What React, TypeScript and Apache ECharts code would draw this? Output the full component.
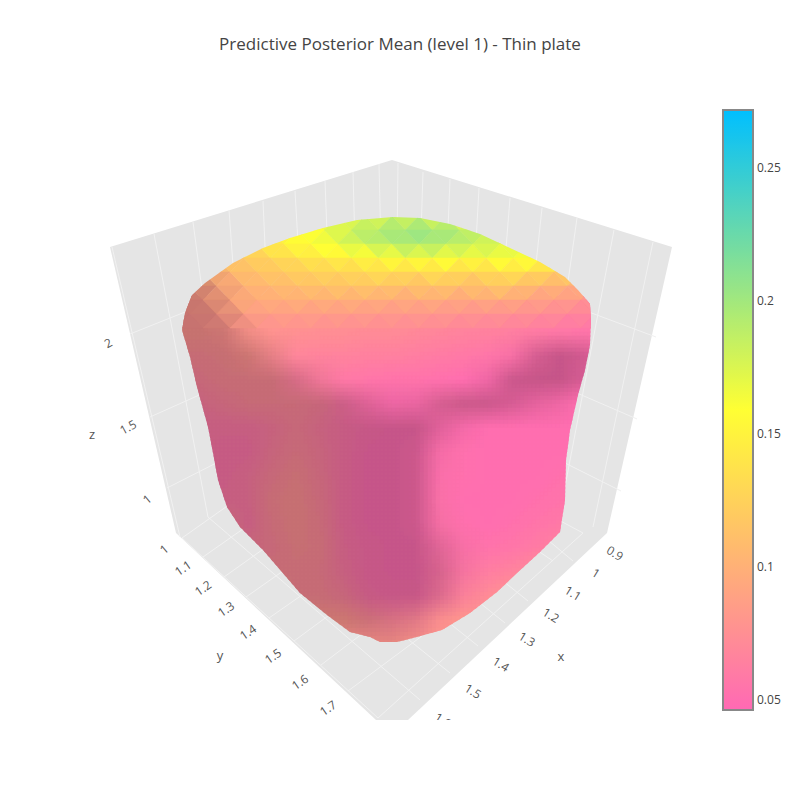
import React, { useEffect, useRef } from "react";
import * as echarts from "echarts";

const FONT = '"Open Sans", sans-serif';
const titleText = "Predictive Posterior Mean (level 1) - Thin plate";
const colorStops = ["#ff69b4", "#ffff33", "#00bfff"];
const valueMin = 0.0462;
const valueMax = 0.2714;
const colorbarTicks = [0.05, 0.1, 0.15, 0.2, 0.25];

// scene projected on the picture plane
const wallOutline = [[392, 160], [672, 247], [607, 533], [408, 720], [376, 720], [176, 533], [110, 247]];
const wallGridLines = [
  // y lines on the left wall
  [112, 247, 180, 537], [154, 234, 208, 517], [193, 222, 230, 500], [229, 210, 250, 500], [263, 201, 275, 470],
  [295, 191, 310, 450], [325, 181, 335, 440], [353, 172, 360, 430], [379, 164, 385, 420],
  // x lines on the right wall
  [398, 163, 395, 420], [423, 172, 415, 420], [450, 179, 440, 430], [479, 188, 465, 440], [510, 198, 490, 450],
  [542, 208, 515, 460], [577, 218, 540, 480], [614, 230, 563, 497], [653, 242, 593, 527],
  // z lines
  [130, 334, 200, 306], [150, 417, 215, 388], [167, 488, 230, 456],
  [570, 305, 656, 337], [570, 390, 637, 419], [555, 458, 621, 491],
  // floor, constant x
  [182, 538, 378, 718], [208, 517, 420, 700], [235, 500, 450, 673], [368, 558, 478, 646], [395, 535, 505, 623],
  [418, 513, 528, 601], [470, 505, 553, 561], [500, 500, 573, 561], [540, 510, 583, 533],
  // floor, constant y
  [182, 538, 240, 497], [203, 557, 280, 503], [224, 577, 300, 523], [246, 597, 320, 545], [269, 618, 345, 565],
  [294, 641, 370, 585], [321, 665, 400, 605], [348, 691, 430, 630], [378, 718, 583, 533],
];
const tickTexts = ["2", "1.5", "1", "1", "1.1", "1.2", "1.3", "1.4", "1.5", "1.6", "1.7", "0.9", "1", "1.1", "1.2", "1.3", "1.4", "1.5", "1.6"];
const tickX = [108, 128, 147, 164, 183, 203, 226, 248, 273, 300, 328, 615, 596, 573, 551, 527, 501, 473, 443];
const tickY = [343, 427, 499, 549, 568, 588, 609, 632, 656, 682, 708, 553, 573, 593, 615, 639, 664, 691, 720];
const tickTilt = [0.5, 0.5, 0.7, 0.7, 0.6, 0.6, 0.6, 0.6, 0.6, 0.6, 0.6, -0.55, -0.55, -0.55, -0.55, -0.55, -0.55, -0.55, -0.55];
const axisNames = ["z", "y", "x"];
const axisNameX = [92, 220, 561];
const axisNameY = [434, 655, 656];

const blobOutline = [
  [393, 217], [420, 218], [450, 224], [480, 234], [510, 248], [540, 262], [565, 277], [578, 290], [590, 304], [591, 320],
  [590, 345], [585, 370], [578, 395], [570, 430], [566, 460], [565, 500], [560, 532], [540, 552], [517, 573], [497, 592],
  [470, 613], [442, 630], [413, 638], [397, 642], [380, 642], [370, 637], [350, 632], [327, 615], [300, 593], [263, 550],
  [240, 527], [227, 507], [218, 480], [213, 453], [208, 427], [197, 387], [190, 357], [182, 330], [185, 313], [192, 295],
  [205, 283], [233, 263], [263, 248], [290, 238], [323, 228], [357, 220],
];

// lattice of the smooth part of the surface
const latticeX = [176, 200, 224, 248, 272, 296, 320, 344, 368, 392, 416, 440, 464, 488, 512, 536, 560, 584, 608];
const lightY = [212, 236, 260, 284, 308, 332, 356, 380, 404, 428, 452, 476, 500, 524, 548, 572, 596, 620, 644];
const light = [
  [100, 100, 100, 100, 100, 100, 100, 100, 100, 100, 100, 100, 100, 100, 100, 100, 100, 100, 100],
  [100, 100, 100, 100, 100, 100, 100, 100, 100, 100, 100, 100, 100, 100, 100, 100, 100, 100, 100],
  [100, 100, 100, 100, 100, 100, 100, 100, 100, 100, 100, 100, 100, 100, 100, 100, 100, 100, 100],
  [80, 82, 96, 100, 100, 100, 100, 100, 100, 100, 100, 100, 100, 100, 100, 100, 100, 100, 100],
  [78, 78, 88, 100, 100, 100, 100, 100, 100, 100, 100, 100, 100, 100, 100, 100, 100, 100, 100],
  [78, 78, 80, 94, 100, 100, 100, 100, 100, 100, 100, 100, 100, 100, 100, 100, 100, 100, 100],
  [78, 78, 78, 80, 90, 100, 100, 100, 100, 100, 100, 100, 100, 100, 97, 84, 78, 82, 90],
  [78, 78, 78, 78, 78, 84, 94, 100, 100, 100, 100, 100, 100, 94, 80, 78, 78, 84, 90],
  [78, 78, 78, 78, 78, 78, 78, 80, 87, 93, 92, 84, 80, 80, 84, 90, 94, 100, 100],
  [78, 78, 78, 78, 78, 78, 78, 78, 78, 78, 78, 88, 96, 100, 100, 100, 100, 100, 100],
  [78, 78, 78, 78, 78, 78, 78, 78, 78, 78, 80, 96, 100, 100, 100, 100, 100, 100, 100],
  [78, 78, 78, 78, 78, 78, 78, 78, 78, 78, 80, 98, 100, 100, 100, 100, 100, 100, 100],
  [78, 78, 78, 78, 78, 78, 78, 78, 78, 78, 80, 98, 100, 100, 100, 100, 100, 100, 100],
  [78, 78, 78, 78, 78, 78, 78, 78, 78, 78, 80, 96, 100, 100, 100, 100, 100, 100, 100],
  [78, 78, 78, 78, 78, 78, 78, 78, 78, 78, 78, 88, 97, 100, 100, 100, 100, 100, 100],
  [78, 78, 78, 78, 78, 78, 78, 78, 78, 78, 78, 84, 96, 100, 100, 100, 100, 100, 100],
  [78, 78, 78, 78, 78, 78, 78, 78, 78, 78, 78, 86, 98, 100, 100, 100, 100, 100, 100],
  [80, 80, 80, 80, 80, 80, 80, 80, 80, 84, 88, 98, 100, 100, 100, 100, 100, 100, 100],
  [90, 90, 90, 90, 90, 90, 90, 90, 90, 90, 95, 100, 100, 100, 100, 100, 100, 100, 100],
];
const meanY = [332, 356, 380, 404, 428, 452, 476, 500, 524, 548, 572, 596, 620, 644];
const mean = [
  [0.08, 0.078, 0.078, 0.08, 0.078, 0.076, 0.075, 0.074, 0.072, 0.072, 0.07, 0.068, 0.066, 0.065, 0.063, 0.06, 0.058, 0.056, 0.056],
  [0.072, 0.072, 0.074, 0.078, 0.074, 0.068, 0.066, 0.066, 0.064, 0.064, 0.062, 0.06, 0.058, 0.056, 0.054, 0.052, 0.05, 0.05, 0.05],
  [0.065, 0.068, 0.072, 0.072, 0.072, 0.064, 0.062, 0.058, 0.056, 0.054, 0.054, 0.052, 0.05, 0.05, 0.05, 0.05, 0.05, 0.05, 0.05],
  [0.06, 0.062, 0.066, 0.07, 0.07, 0.07, 0.066, 0.056, 0.052, 0.05, 0.05, 0.052, 0.052, 0.05, 0.05, 0.05, 0.05, 0.05, 0.05],
  [0.06, 0.058, 0.058, 0.058, 0.062, 0.068, 0.062, 0.056, 0.052, 0.05, 0.05, 0.05, 0.05, 0.05, 0.05, 0.05, 0.05, 0.05, 0.05],
  [0.06, 0.058, 0.056, 0.056, 0.064, 0.07, 0.064, 0.056, 0.05, 0.05, 0.05, 0.052, 0.052, 0.05, 0.05, 0.05, 0.05, 0.05, 0.05],
  [0.065, 0.06, 0.056, 0.06, 0.068, 0.074, 0.066, 0.056, 0.05, 0.05, 0.05, 0.052, 0.052, 0.05, 0.05, 0.05, 0.052, 0.055, 0.055],
  [0.07, 0.065, 0.058, 0.06, 0.072, 0.076, 0.068, 0.056, 0.05, 0.05, 0.05, 0.054, 0.05, 0.05, 0.05, 0.052, 0.054, 0.058, 0.058],
  [0.09, 0.085, 0.07, 0.058, 0.07, 0.076, 0.07, 0.056, 0.05, 0.05, 0.05, 0.054, 0.052, 0.05, 0.052, 0.055, 0.058, 0.062, 0.062],
  [0.09, 0.09, 0.085, 0.066, 0.068, 0.074, 0.072, 0.058, 0.052, 0.05, 0.05, 0.054, 0.054, 0.054, 0.056, 0.06, 0.065, 0.068, 0.068],
  [0.09, 0.09, 0.09, 0.085, 0.072, 0.072, 0.07, 0.06, 0.052, 0.05, 0.05, 0.056, 0.058, 0.062, 0.066, 0.072, 0.072, 0.07, 0.07],
  [0.09, 0.09, 0.09, 0.09, 0.085, 0.072, 0.072, 0.066, 0.055, 0.052, 0.052, 0.06, 0.066, 0.072, 0.078, 0.08, 0.08, 0.08, 0.08],
  [0.09, 0.09, 0.09, 0.09, 0.09, 0.085, 0.08, 0.08, 0.072, 0.068, 0.07, 0.076, 0.08, 0.08, 0.08, 0.08, 0.08, 0.08, 0.08],
  [0.08, 0.08, 0.08, 0.08, 0.08, 0.08, 0.08, 0.08, 0.08, 0.08, 0.08, 0.08, 0.08, 0.08, 0.08, 0.08, 0.08, 0.08, 0.08],
];

// faceted cap at the top of the surface (odd rows are staggered)
const capX = [176, 203, 230, 257, 284, 311, 338, 365, 392, 419, 446, 473, 500, 527, 554, 581, 608];
const capStagger = 13.5;
const capY = [216, 230, 244, 258, 272, 286, 300, 314, 328];
const capMean = [
  [0.12, 0.12, 0.13, 0.14, 0.15, 0.16, 0.17, 0.17, 0.175, 0.175, 0.17, 0.165, 0.16, 0.16, 0.15, 0.14, 0.13],
  [0.12, 0.125, 0.13, 0.14, 0.155, 0.165, 0.185, 0.195, 0.205, 0.205, 0.195, 0.18, 0.17, 0.16, 0.15, 0.14, 0.13],
  [0.11, 0.12, 0.125, 0.135, 0.155, 0.16, 0.17, 0.185, 0.19, 0.195, 0.19, 0.185, 0.175, 0.165, 0.15, 0.14, 0.13],
  [0.11, 0.115, 0.12, 0.125, 0.135, 0.145, 0.15, 0.155, 0.165, 0.165, 0.16, 0.165, 0.165, 0.16, 0.145, 0.13, 0.12],
  [0.1, 0.1, 0.105, 0.115, 0.12, 0.125, 0.125, 0.13, 0.135, 0.125, 0.14, 0.12, 0.135, 0.135, 0.125, 0.115, 0.11],
  [0.085, 0.09, 0.1, 0.105, 0.11, 0.115, 0.115, 0.118, 0.11, 0.118, 0.108, 0.118, 0.115, 0.1, 0.105, 0.09, 0.085],
  [0.08, 0.085, 0.095, 0.095, 0.1, 0.098, 0.1, 0.098, 0.095, 0.096, 0.095, 0.092, 0.095, 0.09, 0.085, 0.08, 0.075],
  [0.078, 0.08, 0.09, 0.085, 0.087, 0.085, 0.085, 0.083, 0.082, 0.082, 0.078, 0.078, 0.076, 0.074, 0.07, 0.066, 0.064],
  [0.078, 0.08, 0.08, 0.078, 0.078, 0.076, 0.075, 0.074, 0.072, 0.072, 0.07, 0.068, 0.066, 0.064, 0.06, 0.057, 0.056],
];

const clampIndex = (axis: number[], v: number) => {
  let i = 0;
  while (i < axis.length - 2 && v >= axis[i + 1]) i++;
  const t = Math.max(0, Math.min(1, (v - axis[i]) / (axis[i + 1] - axis[i])));
  return [i, t];
};
const sample = (rows: number[][], ys: number[], x: number, y: number) => {
  const [i, tx] = clampIndex(latticeX, x);
  const [j, ty] = clampIndex(ys, y);
  const a = rows[j][i] * (1 - tx) + rows[j][i + 1] * tx;
  const b = rows[j + 1][i] * (1 - tx) + rows[j + 1][i + 1] * tx;
  return a * (1 - ty) + b * ty;
};
const inside = (x: number, y: number) => {
  let hit = false;
  for (let i = 0, j = blobOutline.length - 1; i < blobOutline.length; j = i++) {
    const [xi, yi] = blobOutline[i];
    const [xj, yj] = blobOutline[j];
    if (yi > y !== yj > y && x < ((xj - xi) * (y - yi)) / (yj - yi) + xi) hit = !hit;
  }
  return hit;
};
const stopRgb = colorStops.map((c) => echarts.color.parse(c));
const shaded = (v: number, l: number) => {
  const t = Math.max(0, Math.min(1, (v - valueMin) / (valueMax - valueMin))) * 2;
  const k = Math.min(1, Math.floor(t));
  const f = t - k;
  const ch = (n: number) => Math.round((stopRgb[k][n] * (1 - f) + stopRgb[k + 1][n] * f) * (l / 100));
  return `rgb(${ch(0)},${ch(1)},${ch(2)})`;
};
const dim = (color: string, l: number) => {
  const c = echarts.color.parse(color);
  return `rgb(${Math.round((c[0] * l) / 100)},${Math.round((c[1] * l) / 100)},${Math.round((c[2] * l) / 100)})`;
};

const capTriangles: number[][] = [];
capY.slice(0, -1).forEach((y0, r) => {
  const y1 = capY[r + 1];
  const offTop = r % 2 ? capStagger : 0;
  const offBot = r % 2 ? 0 : capStagger;
  for (let k = 0; k < capX.length - 1; k++) {
    const t0 = capMean[r][k], t1 = capMean[r][k + 1], b0 = capMean[r + 1][k], b1 = capMean[r + 1][k + 1];
    if (r % 2 === 0) {
      capTriangles.push([capX[k] + offTop, y0, capX[k + 1] + offTop, y0, capX[k] + offBot, y1, (t0 + t1 + b0) / 3]);
      capTriangles.push([capX[k + 1] + offTop, y0, capX[k] + offBot, y1, capX[k + 1] + offBot, y1, (t1 + b0 + b1) / 3]);
    } else {
      capTriangles.push([capX[k] + offTop, y0, capX[k + 1] + offBot, y1, capX[k] + offBot, y1, (t0 + b0 + b1) / 3]);
      capTriangles.push([capX[k] + offTop, y0, capX[k + 1] + offTop, y0, capX[k + 1] + offBot, y1, (t0 + t1 + b1) / 3]);
    }
  }
});

export default function App() {
  const ref = useRef<HTMLDivElement>(null);
  useEffect(() => {
    const chart = echarts.init(ref.current!, undefined, { renderer: "svg" });
    const pts = (api: any, list: number[][]) => list.map((p) => api.coord(p));
    const SUB = 6;
    chart.setOption({
      animation: false,
      title: {
        text: titleText,
        left: "center",
        top: 30,
        textStyle: { fontFamily: FONT, fontSize: 17, fontWeight: "normal", color: "#444" },
      },
      grid: [
        { left: 0, top: 0, width: 800, height: 800, show: false },
        { left: 723, top: 110, width: 30, height: 600, show: false },
      ],
      xAxis: [
        { type: "value", min: 0, max: 800, show: false, gridIndex: 0 },
        { type: "value", min: 0, max: 1, show: false, gridIndex: 1 },
      ],
      yAxis: [
        { type: "value", min: 0, max: 800, inverse: true, show: false, gridIndex: 0 },
        {
          type: "value",
          gridIndex: 1,
          min: valueMin,
          max: valueMax,
          position: "right",
          axisLine: { show: false },
          axisTick: { show: false },
          splitLine: { show: false },
          axisLabel: {
            customValues: colorbarTicks,
            margin: 4,
            color: "#444",
            fontFamily: FONT,
            fontSize: 12,
            formatter: (v: number) => String(+v.toFixed(2)),
          },
        },
      ],
      visualMap: {
        type: "continuous",
        seriesIndex: 4,
        dimension: 6,
        min: valueMin,
        max: valueMax,
        left: 723,
        top: 110,
        padding: 0,
        itemWidth: 30,
        itemHeight: 600,
        calculable: false,
        hoverLink: false,
        inRange: { color: colorStops },
        outOfRange: { color: colorStops },
      },
      graphic: [
        {
          type: "rect",
          z: 60,
          shape: { x: 723, y: 110, width: 30, height: 600 },
          style: { fill: "none", stroke: "#888", lineWidth: 2 },
        },
        { type: "rect", z: 50, shape: { x: 300, y: 720, width: 250, height: 20 }, style: { fill: "#fff" } },
      ],
      series: [
        {
          type: "custom",
          silent: true,
          xAxisIndex: 0,
          yAxisIndex: 0,
          z: 1,
          data: [[0]],
          renderItem: (_: any, api: any) => ({
            type: "polygon",
            shape: { points: pts(api, wallOutline) },
            style: { fill: "#e5e5e5" },
          }),
        },
        {
          type: "custom",
          silent: true,
          xAxisIndex: 0,
          yAxisIndex: 0,
          z: 2,
          data: wallGridLines,
          renderItem: (_: any, api: any) => {
            const a = api.coord([api.value(0), api.value(1)]);
            const b = api.coord([api.value(2), api.value(3)]);
            return {
              type: "line",
              shape: { x1: a[0], y1: a[1], x2: b[0], y2: b[1] },
              style: { stroke: "#f1f1f1", lineWidth: 1 },
            };
          },
        },
        {
          type: "custom",
          silent: true,
          xAxisIndex: 0,
          yAxisIndex: 0,
          z: 3,
          data: tickTexts.map((_, i) => [tickX[i], tickY[i]]),
          renderItem: (p: any, api: any) => {
            const c = api.coord([api.value(0), api.value(1)]);
            return {
              type: "text",
              x: c[0],
              y: c[1],
              rotation: tickTilt[p.dataIndex],
              style: {
                text: tickTexts[p.dataIndex],
                fill: "#555",
                font: `12px ${FONT}`,
                align: "center",
                verticalAlign: "middle",
              },
            };
          },
        },
        {
          type: "custom",
          silent: true,
          xAxisIndex: 0,
          yAxisIndex: 0,
          z: 4,
          data: [[0]],
          renderItem: (_: any, api: any) => {
            const children: any[] = [];
            for (let i = 0; i < latticeX.length - 1; i++) {
              for (let j = 0; j < lightY.length - 1; j++) {
                const dx = (latticeX[i + 1] - latticeX[i]) / SUB;
                const dy = (lightY[j + 1] - lightY[j]) / SUB;
                for (let a = 0; a < SUB; a++) {
                  for (let b = 0; b < SUB; b++) {
                    const x = latticeX[i] + a * dx;
                    const y = lightY[j] + b * dy;
                    const cx = x + dx / 2;
                    const cy = y + dy / 2;
                    if (
                      cy < 296 ||
                      !(inside(x, y) || inside(x + dx, y) || inside(x, y + dy) || inside(x + dx, y + dy))
                    )
                      continue;
                    const fill = shaded(sample(mean, meanY, cx, cy), sample(light, lightY, cx, cy));
                    const p0 = api.coord([x, y]);
                    const p1 = api.coord([x + dx, y + dy]);
                    children.push({
                      type: "rect",
                      shape: { x: p0[0], y: p0[1], width: p1[0] - p0[0], height: p1[1] - p0[1] },
                      style: { fill, stroke: fill, lineWidth: 0.6 },
                    });
                  }
                }
              }
            }
            return {
              type: "group",
              clipPath: { type: "polygon", shape: { points: pts(api, blobOutline) } },
              children,
            };
          },
        },
        {
          type: "custom",
          silent: true,
          xAxisIndex: 0,
          yAxisIndex: 0,
          z: 5,
          data: capTriangles,
          renderItem: (_: any, api: any) => {
            const tri = [0, 2, 4].map((k) => [api.value(k), api.value(k + 1)]);
            const cx = (tri[0][0] + tri[1][0] + tri[2][0]) / 3;
            const cy = (tri[0][1] + tri[1][1] + tri[2][1]) / 3;
            const fill = dim(api.visual("color"), sample(light, lightY, cx, cy));
            return {
              type: "polygon",
              shape: { points: pts(api, tri) },
              clipPath: { type: "polygon", shape: { points: pts(api, blobOutline) } },
              style: { fill, stroke: fill, lineWidth: 0.5 },
            };
          },
        },
        {
          type: "custom",
          silent: true,
          xAxisIndex: 0,
          yAxisIndex: 0,
          z: 6,
          data: axisNames.map((_, i) => [axisNameX[i], axisNameY[i]]),
          renderItem: (p: any, api: any) => {
            const c = api.coord([api.value(0), api.value(1)]);
            return {
              type: "text",
              x: c[0],
              y: c[1],
              style: {
                text: axisNames[p.dataIndex],
                fill: "#555",
                font: `13px ${FONT}`,
                align: "center",
                verticalAlign: "middle",
              },
            };
          },
        },
      ],
    });
    return () => chart.dispose();
  }, []);
  return <div ref={ref} style={{ position: "absolute", left: 0, top: 0, width: 800, height: 800 }} />;
}
